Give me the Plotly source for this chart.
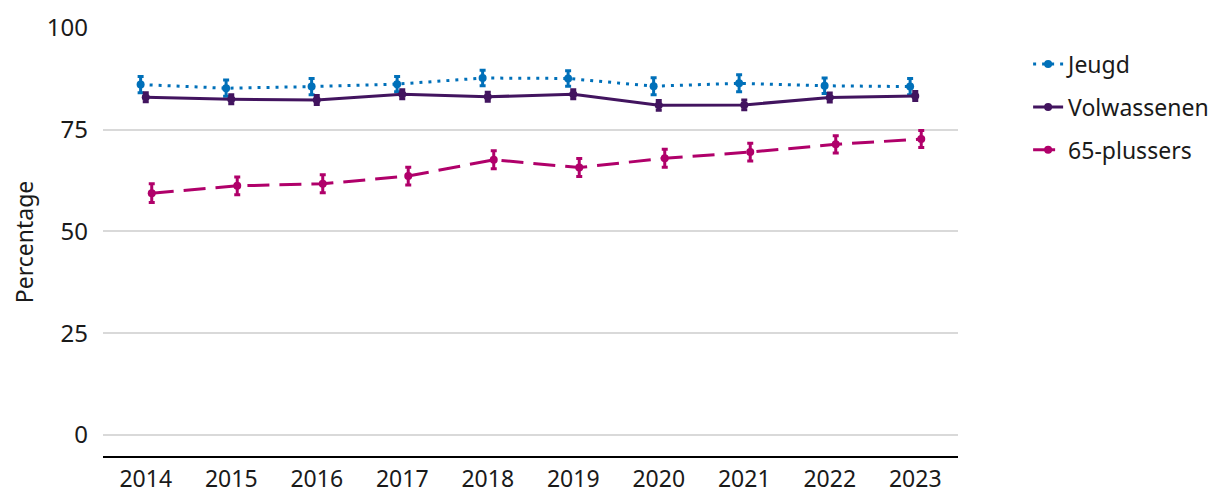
import plotly.graph_objects as go

years = ["2014", "2015", "2016", "2017", "2018", "2019", "2020", "2021", "2022", "2023"]
jeugd = [86.1, 85.2, 85.6, 86.2, 87.7, 87.6, 85.7, 86.4, 85.8, 85.6]
jeugd_err = [2.0, 2.0, 2.0, 1.9, 1.9, 1.9, 2.1, 2.1, 1.9, 2.0]
volw = [83.0, 82.5, 82.3, 83.7, 83.1, 83.7, 81.0, 81.1, 82.9, 83.3]
volw_err = [1.1, 1.1, 1.1, 1.1, 1.1, 1.1, 1.2, 1.2, 1.1, 1.1]
plus65 = [59.4, 61.2, 61.7, 63.6, 67.6, 65.7, 68.0, 69.5, 71.4, 72.7]
plus65_err = [2.3, 2.2, 2.2, 2.2, 2.2, 2.2, 2.2, 2.2, 2.1, 2.1]
names = ["Jeugd", "Volwassenen", "65-plussers"]
colors = ["#0070b9", "#42145f", "#b0006a"]
dashes = ["3px,6px", "solid", "22px,10px"]
offsets = [-0.06, 0.0, 0.07]

fig = go.Figure()
for i, (vals, errs) in enumerate([(jeugd, jeugd_err), (volw, volw_err), (plus65, plus65_err)]):
    xs = [k + offsets[i] for k in range(len(years))]
    fig.add_trace(go.Scatter(
        x=xs, y=vals, name=names[i], mode="lines+markers",
        line=dict(color=colors[i], width=3, dash=dashes[i]),
        marker=dict(color=colors[i], size=8),
        error_y=dict(type="data", array=errs, visible=True, color=colors[i], thickness=3, width=3),
        legendgroup=names[i],
    ))

fig.update_layout(
    width=1211, height=482,
    paper_bgcolor="white", plot_bgcolor="white",
    margin=dict(l=95, r=261, t=20, b=34, autoexpand=False),
    font=dict(family="Noto Sans, Open Sans, sans-serif", size=23, color="#1a1a1a"),
    showlegend=True,
    legend=dict(x=1.082, y=0.966, xanchor="left", yanchor="top", traceorder="grouped",
                tracegroupgap=10, font=dict(size=23), bgcolor="rgba(0,0,0,0)"),
    xaxis=dict(
        tickmode="array", tickvals=list(range(len(years))), ticktext=years,
        range=[-0.5, 9.5], showgrid=False, zeroline=False, automargin=False,
        showline=True, linecolor="black", linewidth=2, ticks="", ticklabelstandoff=1,
        tickfont=dict(size=23),
    ),
    yaxis=dict(
        range=[-5.2, 100], tickvals=[0, 25, 50, 75, 100], showgrid=True,
        gridcolor="#d9d9d9", gridwidth=2, zeroline=False, showline=False, automargin=False,
        ticks="", ticklabelstandoff=14, tickfont=dict(size=24),
        title=dict(text="Percentage", standoff=12, font=dict(size=23)),
    ),
)

fig.write_html("out.html")
